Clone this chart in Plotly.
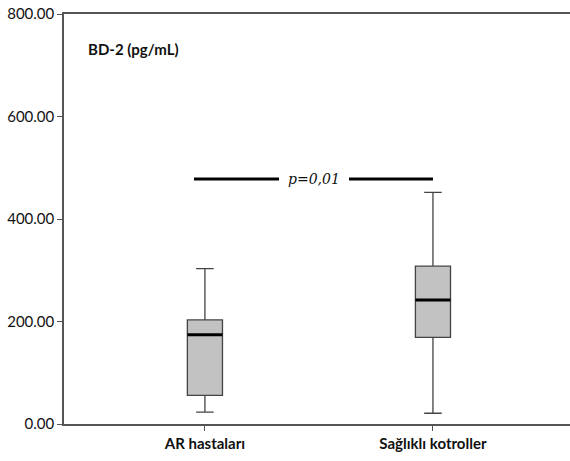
import plotly.graph_objects as go

categories = ["AR hastaları", "Sağlıklı kotroller"]
lower_whisker = [23, 21]
q1_values = [56, 169]
median_values = [174, 242]
q3_values = [203, 308]
upper_whisker = [303, 452]
y_ticks = [0, 200, 400, 600, 800]
y_tick_labels = ["0.00", "200.00", "400.00", "600.00", "800.00"]
p_label = "p=0,01"
p_level = 478
y_title = "BD-2 (pg/mL)"

xpos = list(range(len(categories)))
box_w = 0.154

fig = go.Figure()
fig.add_trace(go.Box(
    x=xpos, q1=q1_values, median=median_values, q3=q3_values,
    lowerfence=lower_whisker, upperfence=upper_whisker,
    fillcolor="#c2c2c2", line=dict(color="#444444", width=1.3),
    width=box_w, whiskerwidth=0.5, boxpoints=False, showlegend=False,
    hoverinfo="skip"))

shapes = []
for i, m in zip(xpos, median_values):
    shapes.append(dict(type="line", xref="x", yref="y",
                       x0=i - box_w / 2, x1=i + box_w / 2, y0=m, y1=m,
                       line=dict(color="black", width=3)))
shapes.append(dict(type="line", xref="x", yref="y", x0=-0.048, x1=0.325,
                   y0=p_level, y1=p_level, line=dict(color="black", width=3)))
shapes.append(dict(type="line", xref="x", yref="y", x0=0.632, x1=1.0,
                   y0=p_level, y1=p_level, line=dict(color="black", width=3)))

fig.update_layout(
    width=570, height=461,
    margin=dict(l=64, r=0, t=14, b=37),
    paper_bgcolor="white", plot_bgcolor="white",
    font=dict(family="Lato, Open Sans, sans-serif", size=15, color="#111"),
    shapes=shapes,
    annotations=[
        dict(x=0.48, y=p_level, xref="x", yref="y", text="<i>" + p_label + "</i>",
             showarrow=False, font=dict(family="DejaVu Serif, serif", size=14, color="#111")),
        dict(x=0.043, y=0.915, xref="paper", yref="paper", text="<b>" + y_title + "</b>",
             showarrow=False, xanchor="left", yanchor="middle",
             font=dict(size=15, color="#111")),
    ],
    xaxis=dict(range=[-0.618, 1.601], tickvals=xpos, ticktext=["<b>" + c + "</b>" for c in categories],
               showline=True, mirror=True, linecolor="#555", linewidth=1.5, automargin=False,
               ticks="outside", ticklen=5, tickcolor="#555", showgrid=False, zeroline=False),
    yaxis=dict(range=[0, 800], tickvals=y_ticks, ticktext=y_tick_labels, automargin=False,
               showline=True, linecolor="#555", linewidth=1.5,
               ticks="outside", ticklen=5, tickcolor="#555", showgrid=False, zeroline=False),
)

fig.write_html("out.html", config={"displayModeBar": False},
               post_script="document.body.style.margin='0';document.body.style.overflow='hidden';")
